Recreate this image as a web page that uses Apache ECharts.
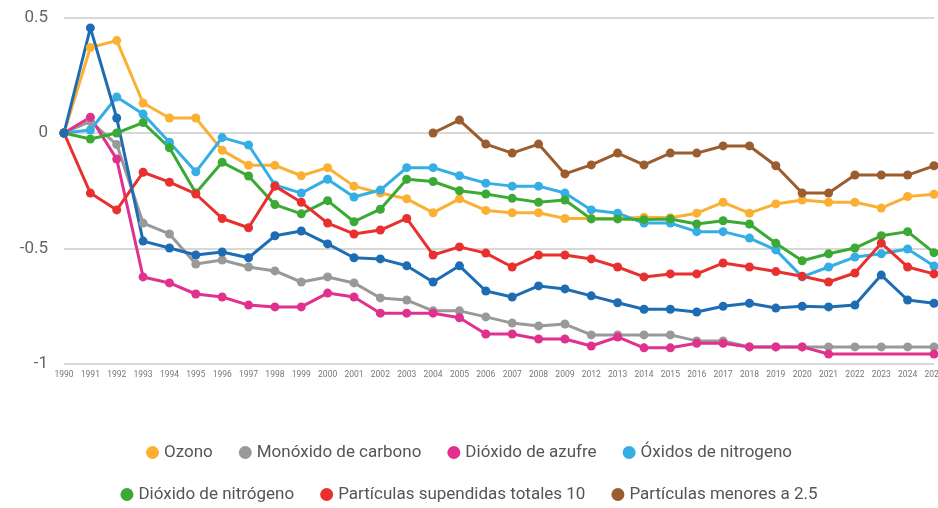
<!DOCTYPE html>
<html>
<head>
<meta charset="utf-8">
<script src="https://cdn.jsdelivr.net/npm/echarts@6/dist/echarts.min.js"></script>
<style>
  html, body { margin: 0; padding: 0; background: #fff; overflow: hidden; }
  #chart { width: 938px; height: 508px; }
</style>
</head>
<body>
<div id="chart"></div>
<script>
// Years on the horizontal axis (2010 and 2011 are absent from the series)
const years = ['1990','1991','1992','1993','1994','1995','1996','1997','1998','1999',
  '2000','2001','2002','2003','2004','2005','2006','2007','2008','2009',
  '2012','2013','2014','2015','2016','2017','2018','2019','2020','2021',
  '2022','2023','2024','2025'];

const yTicks = { min: -1, max: 0.5, interval: 0.5 };

const ozono = [0, 0.37, 0.40, 0.13, 0.065, 0.065, -0.075, -0.14, -0.14, -0.185,
  -0.15, -0.23, -0.26, -0.285, -0.345, -0.285, -0.335, -0.345, -0.345, -0.37,
  -0.37, -0.37, -0.365, -0.367, -0.347, -0.30, -0.347, -0.307, -0.29, -0.30,
  -0.30, -0.325, -0.275, -0.265];

const monoxidoCarbono = [0, 0.05, -0.05, -0.39, -0.437, -0.567, -0.55, -0.58, -0.597, -0.645,
  -0.623, -0.649, -0.714, -0.723, -0.77, -0.77, -0.796, -0.823, -0.835, -0.827,
  -0.874, -0.874, -0.874, -0.874, -0.90, -0.90, -0.926, -0.926, -0.926, -0.926,
  -0.926, -0.926, -0.926, -0.926];

const dioxidoAzufre = [0, 0.068, -0.113, -0.623, -0.649, -0.697, -0.71, -0.745, -0.753, -0.753,
  -0.693, -0.71, -0.78, -0.78, -0.78, -0.80, -0.87, -0.87, -0.892, -0.892,
  -0.922, -0.883, -0.93, -0.93, -0.91, -0.91, -0.926, -0.926, -0.926, -0.957,
  null, null, null, -0.957];

const oxidosNitrogeno = [0, 0.013, 0.156, 0.082, -0.04, -0.168, -0.02, -0.052, -0.225, -0.26,
  -0.20, -0.277, -0.247, -0.15, -0.15, -0.185, -0.217, -0.23, -0.23, -0.26,
  -0.333, -0.347, -0.39, -0.39, -0.427, -0.427, -0.455, -0.506, -0.623, -0.58,
  -0.537, -0.523, -0.502, -0.576];

const dioxidoNitrogeno = [0, -0.026, 0, 0.045, -0.064, -0.26, -0.127, -0.186, -0.31, -0.35,
  -0.293, -0.384, -0.33, -0.20, -0.21, -0.25, -0.264, -0.283, -0.30, -0.29,
  -0.372, -0.372, -0.375, -0.372, -0.394, -0.38, -0.394, -0.477, -0.553, -0.523,
  -0.498, -0.445, -0.427, -0.518];

const particulas10 = [0, -0.26, -0.333, -0.17, -0.213, -0.264, -0.37, -0.41, -0.23, -0.30,
  -0.39, -0.437, -0.42, -0.37, -0.528, -0.493, -0.52, -0.58, -0.528, -0.528,
  -0.545, -0.58, -0.623, -0.61, -0.61, -0.563, -0.58, -0.60, -0.62, -0.645,
  -0.606, -0.477, -0.58, -0.61];

const particulas25 = [null, null, null, null, null, null, null, null, null, null,
  null, null, null, null, 0, 0.056, -0.048, -0.087, -0.048, -0.177,
  -0.138, -0.087, -0.138, -0.087, -0.087, -0.056, -0.056, -0.142, -0.26, -0.26,
  -0.182, -0.182, -0.182, -0.142];

// Eighth series, drawn without a legend entry
const contaminante8 = [0, 0.455, 0.065, -0.468, -0.498, -0.528, -0.515, -0.54, -0.445, -0.424,
  -0.48, -0.54, -0.545, -0.575, -0.645, -0.575, -0.684, -0.71, -0.662, -0.675,
  -0.705, -0.735, -0.763, -0.763, -0.775, -0.75, -0.737, -0.758, -0.75, -0.753,
  -0.745, -0.615, -0.723, -0.737];

const seriesDefs = [
  { name: 'Ozono', data: ozono, color: '#FBB034' },
  { name: 'Monóxido de carbono', data: monoxidoCarbono, color: '#999999' },
  { name: 'Dióxido de azufre', data: dioxidoAzufre, color: '#E0318F' },
  { name: 'Óxidos de nitrogeno', data: oxidosNitrogeno, color: '#35AEE6' },
  { name: 'Dióxido de nitrógeno', data: dioxidoNitrogeno, color: '#3AAA35' },
  { name: 'Partículas supendidas totales 10', data: particulas10, color: '#E8312F' },
  { name: 'Partículas menores a 2.5', data: particulas25, color: '#9B5C2E' },
  { name: 'Contaminante 8', data: contaminante8, color: '#1E6DB4' }
];

const legendRow1 = ['Ozono', 'Monóxido de carbono', 'Dióxido de azufre', 'Óxidos de nitrogeno'];
const legendRow2 = ['Dióxido de nitrógeno', 'Partículas supendidas totales 10', 'Partículas menores a 2.5'];

const chart = echarts.init(document.getElementById('chart'), null, { renderer: 'canvas' });

const legendBase = {
  left: 'center',
  icon: 'circle',
  itemWidth: 13,
  itemHeight: 13,
  itemGap: 26,
  textStyle: { fontFamily: 'Roboto', fontSize: 17, color: '#555' }
};

chart.setOption({
  animation: false,
  backgroundColor: '#fff',
  // fixed plot rectangle; axis labels may sit outside it
  grid: { left: 64, right: 4, top: 17.5, bottom: 144, containLabel: false, outerBoundsMode: 'none' },
  legend: [
    Object.assign({}, legendBase, { top: 439, data: legendRow1 }),
    Object.assign({}, legendBase, { top: 481, data: legendRow2 })
  ],
  xAxis: {
    type: 'category',
    data: years,
    boundaryGap: false,
    axisLine: { show: false },
    axisTick: { show: false },
    axisLabel: { fontFamily: 'Roboto', fontSize: 8.5, color: '#777', margin: 6, interval: 0 }
  },
  yAxis: {
    type: 'value',
    min: yTicks.min,
    max: yTicks.max,
    interval: yTicks.interval,
    axisLine: { show: false },
    axisTick: { show: false },
    axisLabel: { fontFamily: 'Roboto', fontSize: 17, color: '#666', margin: 16 },
    splitLine: { lineStyle: { color: '#d8d8d8', width: 2 } }
  },
  series: seriesDefs.map(s => ({
    name: s.name,
    type: 'line',
    data: s.data,
    connectNulls: true,
    symbol: 'circle',
    symbolSize: 9,
    showSymbol: true,
    lineStyle: { width: 3, color: s.color },
    itemStyle: { color: s.color }
  }))
});
</script>
</body>
</html>
